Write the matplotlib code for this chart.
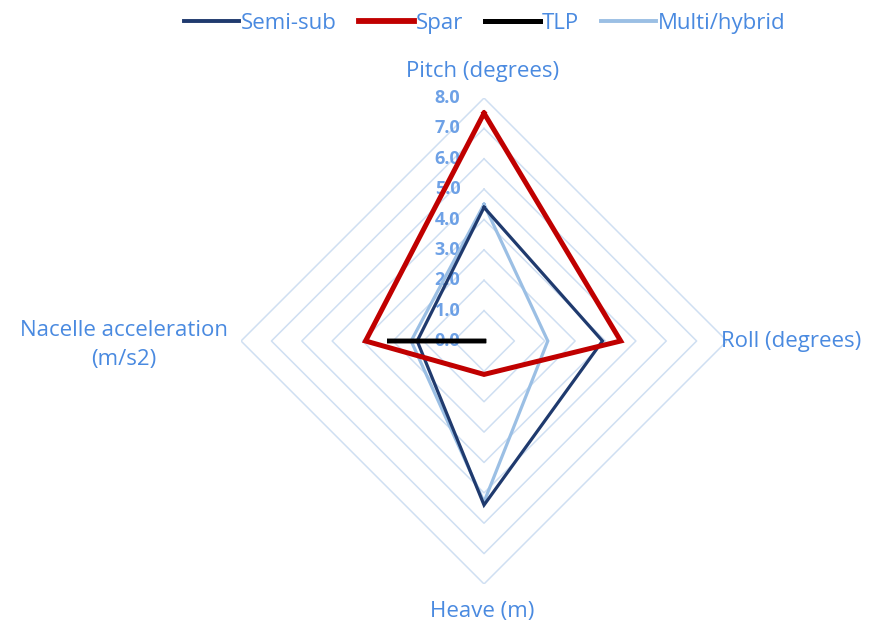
import numpy as np
import matplotlib
matplotlib.use("Agg")
import matplotlib.pyplot as plt
from matplotlib.lines import Line2D

plt.rcParams['font.family'] = ['Open Sans', 'DejaVu Sans']

# Radar chart data
categories = ["Pitch (degrees)", "Roll (degrees)", "Heave (m)", "Nacelle acceleration\n(m/s2)"]
series_names = ["Semi-sub", "Spar", "TLP", "Multi/hybrid"]
semi_sub = [4.4, 3.9, 5.4, 2.2]
spar = [7.5, 4.5, 1.1, 3.9]
tlp = [0.0, 0.0, 0.0, 3.2]
multi_hybrid = [4.5, 2.1, 5.3, 2.4]
ring_values = [0, 1, 2, 3, 4, 5, 6, 7, 8]
ring_labels = ["0.0", "1.0", "2.0", "3.0", "4.0", "5.0", "6.0", "7.0", "8.0"]

text_color = "#4a8ae0"
grid_color = "#cfdff2"
colors = {"Semi-sub": "#1f3a6e", "Spar": "#c00000", "TLP": "#000000", "Multi/hybrid": "#9bbfe4"}
widths = {"Semi-sub": 2.3, "Spar": 3.6, "TLP": 3.2, "Multi/hybrid": 2.3}
zorders = {"Semi-sub": 4, "Spar": 5, "TLP": 6, "Multi/hybrid": 3}

fig = plt.figure(figsize=(8.81, 6.25), dpi=100)
ax = fig.add_axes([0.2736, 0.0656, 0.5516, 0.7776], projection="polar")
ax.set_theta_zero_location("N")
ax.set_theta_direction(-1)
ax.set_ylim(0, 8)
ax.grid(False)
ax.spines["polar"].set_visible(False)
ax.set_xticks([])
ax.set_yticks([])
ax.patch.set_alpha(0)

n = len(categories)
angles = np.linspace(0, 2 * np.pi, n, endpoint=False)
closed = np.append(angles, angles[0])

# polygonal grid rings
for v in ring_values[1:]:
    ax.plot(closed, [v] * (n + 1), color=grid_color, lw=1.1, zorder=1)

# value labels along the pitch axis
for v, lab in zip(ring_values, ring_labels):
    ax.annotate(lab, xy=(0, v), xytext=(-17, 0), textcoords="offset points",
                ha="right", va="center", color=text_color, fontsize=13,
                fontweight="bold", alpha=0.8, zorder=2, annotation_clip=False)

data = {"Semi-sub": semi_sub, "Spar": spar, "TLP": tlp, "Multi/hybrid": multi_hybrid}
for name in series_names:
    vals = data[name]
    ax.plot(closed, vals + vals[:1], color=colors[name], lw=widths[name],
            zorder=zorders[name], solid_joinstyle="miter")

# category labels
label_kw = dict(textcoords="offset points", color=text_color, fontsize=16,
                annotation_clip=False)
ax.annotate(categories[0], xy=(0, 8), xytext=(-1, 19), ha="center", va="center", **label_kw)
ax.annotate(categories[1], xy=(np.pi / 2, 8), xytext=(-4, 0), ha="left", va="center", **label_kw)
ax.annotate(categories[2], xy=(np.pi, 8), xytext=(-1, -20), ha="center", va="center", **label_kw)
ax.annotate(categories[3], xy=(3 * np.pi / 2, 8), xytext=(-9.5, -3), ha="right", va="center",
            multialignment="center", linespacing=1.5, **label_kw)

handles = [Line2D([], [], color=colors[s], lw={"Spar": 4.2, "TLP": 3.6}.get(s, 2.8))
           for s in series_names]
leg = fig.legend(handles, series_names, loc="center", bbox_to_anchor=(0.55, 0.962), ncol=4,
                 frameon=False, fontsize=16, handlelength=2.5, handletextpad=0.05,
                 columnspacing=1.0)
for t in leg.get_texts():
    t.set_color(text_color)

fig.savefig("out.png", dpi=100)
